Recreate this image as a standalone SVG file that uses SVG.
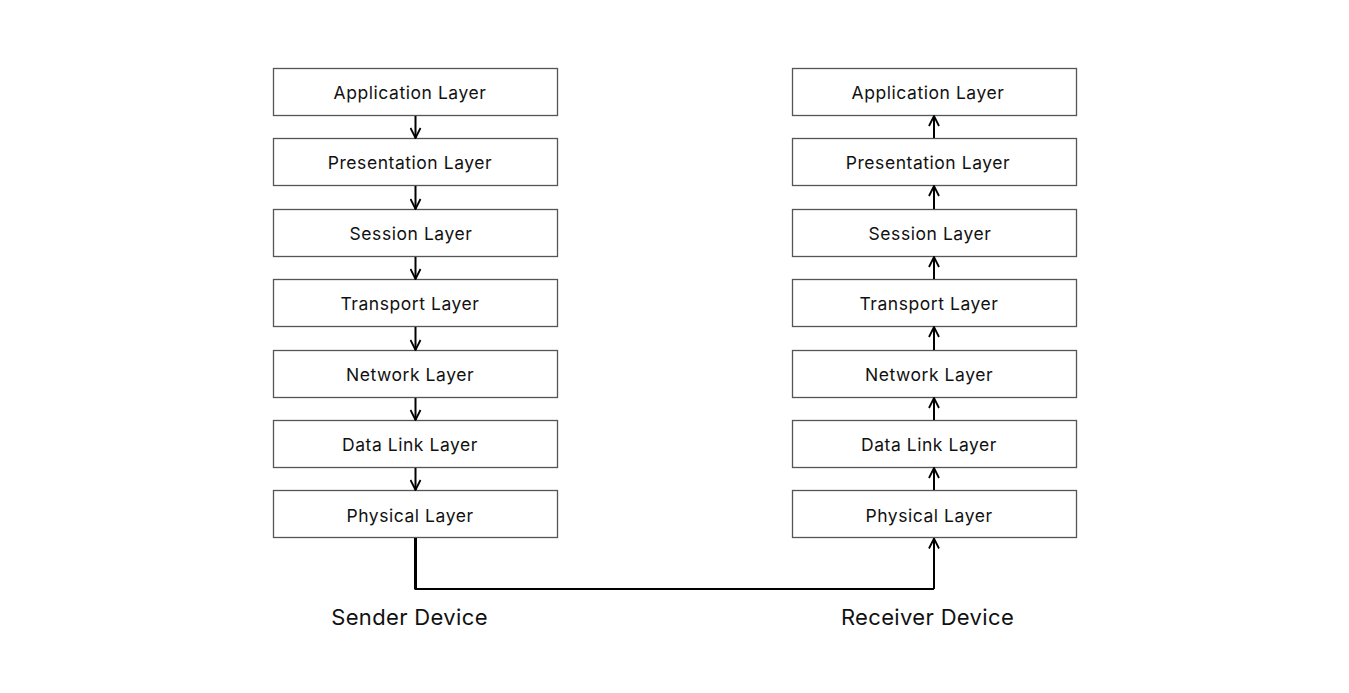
<svg xmlns="http://www.w3.org/2000/svg" width="1349" height="693" viewBox="0 0 1349 693">
<defs>
<style>
.box{fill:#fff;stroke:#555;stroke-width:1.3}
.lbl{font-family:Inter,"Noto Sans",sans-serif;font-size:17.5px;letter-spacing:0.55px;fill:#111;text-anchor:middle}
.dev{font-family:Inter,"Noto Sans",sans-serif;font-size:22px;letter-spacing:0.35px;fill:#111;text-anchor:middle}
.ln{stroke:#000;stroke-width:2;fill:none}
</style>
<marker id="ah" viewBox="0 0 12 12" refX="11" refY="6" markerWidth="12" markerHeight="12" markerUnits="userSpaceOnUse" orient="auto">
<path d="M1,1 L11,6 L1,11" fill="none" stroke="#000" stroke-width="1.8"/>
</marker>
</defs>
<rect width="1349" height="693" fill="#fff"/>
<g id="sender">
<g id="s-app"><rect class="box" x="273.5" y="68.5" width="284" height="47"/><text class="lbl" x="410" y="99">Application Layer</text></g>
<g id="s-pres"><rect class="box" x="273.5" y="138.5" width="284" height="47"/><text class="lbl" x="410" y="169">Presentation Layer</text></g>
<g id="s-sess"><rect class="box" x="273.5" y="209.5" width="284" height="47"/><text class="lbl" x="411" y="240">Session Layer</text></g>
<g id="s-trans"><rect class="box" x="273.5" y="279.5" width="284" height="47"/><text class="lbl" x="410" y="310">Transport Layer</text></g>
<g id="s-net"><rect class="box" x="273.5" y="350.5" width="284" height="47"/><text class="lbl" x="410" y="381">Network Layer</text></g>
<g id="s-dl"><rect class="box" x="273.5" y="420.5" width="284" height="47"/><text class="lbl" x="410" y="451">Data Link Layer</text></g>
<g id="s-phy"><rect class="box" x="273.5" y="490.5" width="284" height="47"/><text class="lbl" x="410" y="521.5">Physical Layer</text></g>
</g>
<g id="receiver">
<g id="r-app"><rect class="box" x="792.5" y="68.5" width="284" height="47"/><text class="lbl" x="928" y="99">Application Layer</text></g>
<g id="r-pres"><rect class="box" x="792.5" y="138.5" width="284" height="47"/><text class="lbl" x="928" y="169">Presentation Layer</text></g>
<g id="r-sess"><rect class="box" x="792.5" y="209.5" width="284" height="47"/><text class="lbl" x="930" y="240">Session Layer</text></g>
<g id="r-trans"><rect class="box" x="792.5" y="279.5" width="284" height="47"/><text class="lbl" x="929" y="310">Transport Layer</text></g>
<g id="r-net"><rect class="box" x="792.5" y="350.5" width="284" height="47"/><text class="lbl" x="929" y="381">Network Layer</text></g>
<g id="r-dl"><rect class="box" x="792.5" y="420.5" width="284" height="47"/><text class="lbl" x="929" y="451">Data Link Layer</text></g>
<g id="r-phy"><rect class="box" x="792.5" y="490.5" width="284" height="47"/><text class="lbl" x="929" y="521.5">Physical Layer</text></g>
</g>
<g id="connectors">
<line class="ln" x1="415.5" y1="116" x2="415.5" y2="138" marker-end="url(#ah)"/>
<line class="ln" x1="415.5" y1="186" x2="415.5" y2="209" marker-end="url(#ah)"/>
<line class="ln" x1="415.5" y1="257" x2="415.5" y2="279" marker-end="url(#ah)"/>
<line class="ln" x1="415.5" y1="327" x2="415.5" y2="350" marker-end="url(#ah)"/>
<line class="ln" x1="415.5" y1="398" x2="415.5" y2="420" marker-end="url(#ah)"/>
<line class="ln" x1="415.5" y1="468" x2="415.5" y2="490" marker-end="url(#ah)"/>
<line class="ln" x1="934" y1="138" x2="934" y2="116" marker-end="url(#ah)"/>
<line class="ln" x1="934" y1="209" x2="934" y2="186" marker-end="url(#ah)"/>
<line class="ln" x1="934" y1="279" x2="934" y2="257" marker-end="url(#ah)"/>
<line class="ln" x1="934" y1="350" x2="934" y2="327" marker-end="url(#ah)"/>
<line class="ln" x1="934" y1="420" x2="934" y2="398" marker-end="url(#ah)"/>
<line class="ln" x1="934" y1="490" x2="934" y2="468" marker-end="url(#ah)"/>
<path d="M415.5,538 V589 H934" stroke="#000" stroke-width="2" fill="none"/>
<line x1="415.5" y1="538" x2="415.5" y2="589" stroke="#000" stroke-width="3"/>
<path class="ln" d="M934,589 V538.5" marker-end="url(#ah)"/>
</g>
<text class="dev" x="409.5" y="625">Sender Device</text>
<text class="dev" x="927.5" y="625">Receiver Device</text>
</svg>
